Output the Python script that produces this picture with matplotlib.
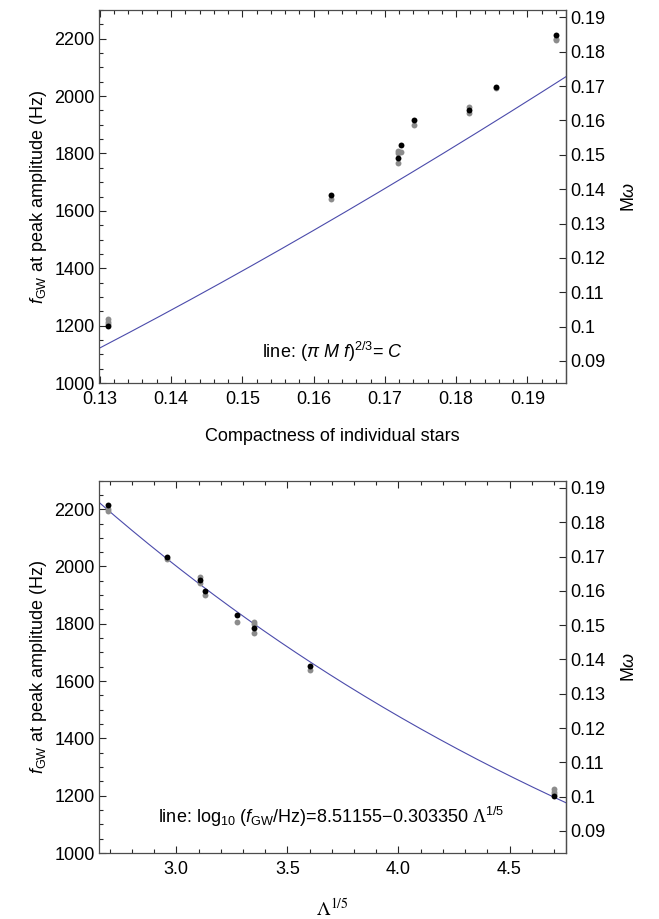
import numpy as np
import matplotlib
matplotlib.use("Agg")
from matplotlib import pyplot as plt
from matplotlib.ticker import MultipleLocator, FixedLocator, FuncFormatter

plt.rcParams["font.family"] = ["Liberation Sans", "DejaVu Sans"]
plt.rcParams["font.size"] = 13
plt.rcParams["mathtext.fontset"] = "custom"
plt.rcParams["mathtext.rm"] = "Liberation Sans"
plt.rcParams["mathtext.it"] = "Liberation Sans:italic"
plt.rcParams["mathtext.cal"] = "Liberation Serif"

# one entry per binary model
compactness = [0.13115, 0.1625, 0.1718, 0.17225, 0.17415, 0.18185, 0.18555, 0.19395]
lambda15 = [4.70, 3.600, 3.348, 3.273, 3.129, 3.105, 2.960, 2.692]
f_peak = [1198, 1654, 1785, 1829, 1915, 1953, 2033, 2214]

# other resolutions (grey dots): model index and frequency
grey_idx = [0, 0, 0, 1, 2, 2, 2, 3, 4, 5, 5, 6, 7, 7]
grey_f = [1222, 1214, 1206, 1640, 1808, 1800, 1768, 1805, 1900, 1962, 1942, 2027, 2199, 2194]

M_tot = 2.70
T_sun = 4.925e-6
fit_a, fit_b = 8.51155, 0.303350

line_col = "#4b4bab"


def f2mw(f):
    return 2 * np.pi * np.asarray(f) * M_tot * T_sun


def mw2f(mw):
    return np.asarray(mw) / (2 * np.pi * M_tot * T_sun)


def style(ax, xmajor, xminor):
    ax.set_ylim(1000, 2300)
    ax.yaxis.set_major_locator(MultipleLocator(200))
    ax.yaxis.set_minor_locator(MultipleLocator(50))
    ax.xaxis.set_major_locator(MultipleLocator(xmajor))
    ax.xaxis.set_minor_locator(MultipleLocator(xminor))
    ax.tick_params(which="both", direction="in", top=True, right=False, color="0.15", width=0.8)
    ax.tick_params(which="major", length=5)
    ax.tick_params(which="minor", length=2.8)
    ax.tick_params(axis="y", pad=3)
    for s in ax.spines.values():
        s.set_color("0.3")
        s.set_linewidth(0.9)
    ax.set_ylabel(r"$f_{\rm GW}$ at peak amplitude (Hz)", labelpad=4)
    sec = ax.secondary_yaxis("right", functions=(f2mw, mw2f))
    sec.yaxis.set_major_locator(FixedLocator(np.round(np.arange(0.09, 0.195, 0.01), 2)))
    sec.yaxis.set_major_formatter(FuncFormatter(lambda v, p: "%g" % round(v, 2)))
    sec.tick_params(direction="in", length=5, color="0.15", width=0.8, pad=3)
    sec.spines["right"].set_color("0.3")
    sec.spines["right"].set_linewidth(0.9)
    sec.set_ylabel(r"M$\omega$", labelpad=11)
    return sec


fig = plt.figure(figsize=(6.59, 9.19), dpi=100)
ax1 = fig.add_axes([0.1502, 0.5832, 0.7086, 0.4059])
ax2 = fig.add_axes([0.1502, 0.0718, 0.7086, 0.4053])

# top: compactness
xs = np.array(compactness)
ax1.scatter(xs[grey_idx], grey_f, s=18, color="0.55", linewidths=0, zorder=3)
ax1.scatter(xs, f_peak, s=18, color="black", linewidths=0, zorder=4)
ax1.set_xlim(0.1299, 0.1954)
cc = np.linspace(0.1299, 0.1954, 200)
ax1.plot(cc, cc ** 1.5 / (np.pi * M_tot * T_sun), color=line_col, lw=0.8, zorder=2)
style(ax1, 0.01, 0.002)
ax1.xaxis.set_major_formatter(FuncFormatter(lambda v, p: "%.2f" % v))
ax1.tick_params(axis="x", pad=6)
ax1.set_xlabel("Compactness of individual stars", labelpad=14)
ax1.text(0.5, 0.084, r"line: $(\pi\ M\ f)^{2/3}$= $C$", transform=ax1.transAxes,
         ha="center", va="center")

# bottom: tidal deformability
ls = np.array(lambda15)
ax2.scatter(ls[grey_idx], grey_f, s=18, color="0.55", linewidths=0, zorder=3)
ax2.scatter(ls, f_peak, s=18, color="black", linewidths=0, zorder=4)
ax2.set_xlim(2.652, 4.754)
ll = np.linspace(2.652, 4.754, 200)
ax2.plot(ll, np.exp(fit_a - fit_b * ll), color=line_col, lw=0.8, zorder=2)
style(ax2, 0.5, 0.1)
ax2.xaxis.set_major_formatter(FuncFormatter(lambda v, p: "%.1f" % v))
ax2.tick_params(axis="x", pad=6)
ax2.set_xlabel(r"$\Lambda^{1/5}$", labelpad=14, math_fontfamily="stix", fontsize=14)
ax2.text(0.498, 0.096,
         r"line: log$_{10}$ ($f_{\rm GW}$/Hz)=8.51155$-$0.303350 $\mathcal{\Lambda}^{1/5}$",
         transform=ax2.transAxes, ha="center", va="center")

fig.savefig("out.png", dpi=100)
